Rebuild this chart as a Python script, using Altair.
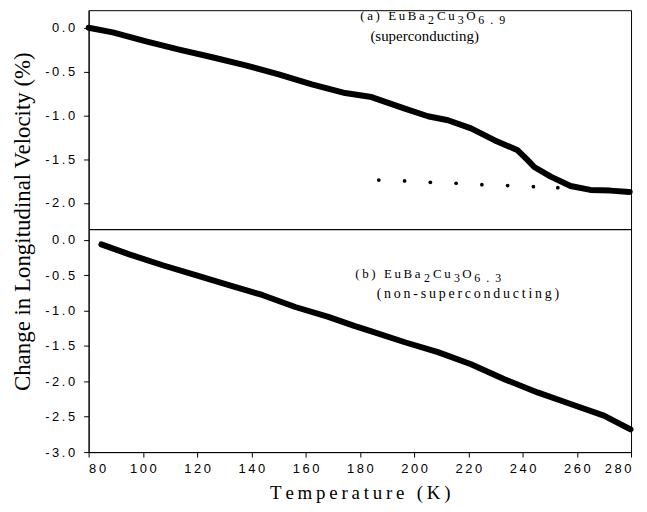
import altair as alt
import pandas as pd

# (a) EuBa2Cu3O6.9 superconducting
temp_a = [80, 88.9, 101.2, 113.4, 125.6, 137.9, 150.1, 162.3, 174.6, 184.3, 196.6,
          205.1, 212.5, 221, 229.6, 238.2, 241.8, 244.3, 250.4, 257.7, 265, 272.4, 279.5]
vel_a = [0.0, -0.053, -0.156, -0.25, -0.337, -0.43, -0.534, -0.648, -0.746, -0.792, -0.924,
         -1.011, -1.057, -1.15, -1.284, -1.40, -1.51, -1.59, -1.70, -1.807, -1.852, -1.86, -1.875]

# dotted background line
temp_dots = [187, 196.5, 206, 215.5, 225, 234.5, 244, 253]
vel_dots = [-1.74, -1.75, -1.765, -1.776, -1.792, -1.803, -1.815, -1.826]

# (b) EuBa2Cu3O6.3 non-superconducting
temp_b = [84.7, 95, 107.3, 119.5, 131.7, 144, 156.2, 168.4, 178.2, 184.3, 196.6, 208.8,
          221, 233.3, 245.5, 257.7, 270, 279.8]
vel_b = [-0.066, -0.206, -0.36, -0.5, -0.64, -0.78, -0.95, -1.09, -1.22, -1.294, -1.448,
         -1.588, -1.76, -1.97, -2.157, -2.32, -2.485, -2.68]

x_ticks = [80, 100, 120, 140, 160, 180, 200, 220, 240, 260, 280]
y_ticks_a = [0.0, -0.5, -1.0, -1.5, -2.0]
y_ticks_b = [0.0, -0.5, -1.0, -1.5, -2.0, -2.5, -3.0]

TS = "\u2009"
ES = "\u2002"


def sp(s, sep=TS):
    return sep.join(s)


# annotation pieces: formula pieces (normal / subscript) and the second lines
norm_a = pd.DataFrame({"T": [180.18, 208.44, 219.27], "V": [0.13] * 3,
                       "text": [sp("(a) EuBa"), sp("Cu"), "O"]})
sub_a = pd.DataFrame({"T": [205.14, 216.15, 223.67], "V": [0.13] * 3,
                      "text": ["2", "3", sp("6.9", ES)]})
line2_a = pd.DataFrame({"T": [183.9], "V": [-0.09], "text": ["(superconducting)"]})

norm_b = pd.DataFrame({"T": [178.35, 206.97, 217.8], "V": [-0.486] * 3,
                       "text": [sp("(b) EuBa"), sp("Cu"), "O"]})
sub_b = pd.DataFrame({"T": [203.67, 214.68, 222.2], "V": [-0.486] * 3,
                      "text": ["2", "3", sp("6.3", ES)]})
line2_b = pd.DataFrame({"T": [186.2], "V": [-0.766], "text": [sp("(non-superconducting)")]})

df_a = pd.DataFrame({"T": temp_a, "V": vel_a})
df_dots = pd.DataFrame({"T": temp_dots, "V": vel_dots})
df_b = pd.DataFrame({"T": temp_b, "V": vel_b})

y_label_expr = "join(split(replace(format(datum.value, '.1f'), '\u2212', '-'), ''), '\u2009')"
x_label_expr = "join(split(datum.label, ''), '\u2009')"

W = 545
xscale = alt.Scale(domain=[80, 280], nice=False, zero=False)
yscale_a = alt.Scale(domain=[-2.3, 0.2], nice=False, zero=False)
yscale_b = alt.Scale(domain=[-3.0, 0.15], nice=False, zero=False)

common = dict(grid=False, domainColor="black", tickColor="black", tickSize=5,
              labelFont="Liberation Sans", labelFontSize=13, labelColor="black",
              titleFont="Liberation Serif", titleFontSize=19, titleFontWeight="normal",
              titleColor="black")

yaxis_a = alt.Axis(values=y_ticks_a, labelExpr=y_label_expr, title=None, labelPadding=9,
                   **common)
yaxis_b = alt.Axis(values=y_ticks_b, labelExpr=y_label_expr, labelPadding=9,
                   title="Change in Longitudinal Velocity (%)", titleY=-8, titlePadding=10,
                   **{**common, "titleFontSize": 23})
xaxis_b = alt.Axis(values=x_ticks, labelExpr=x_label_expr, labelPadding=6,
                   title=sp("Temperature (K)"), titlePadding=8, **common)


def texts(df, xax, yax, ysc, size, dy=0):
    return alt.Chart(df).mark_text(align="left", baseline="middle", font="Liberation Serif",
                                   fontSize=size, color="black", dy=dy).encode(
        x=alt.X("T:Q", scale=xscale, axis=xax),
        y=alt.Y("V:Q", scale=ysc, axis=yax),
        text="text:N")


line_a = alt.Chart(df_a).mark_line(color="black", strokeWidth=6, strokeCap="round",
                                   strokeJoin="round").encode(
    x=alt.X("T:Q", scale=xscale, axis=None),
    y=alt.Y("V:Q", scale=yscale_a, axis=yaxis_a))
dots = alt.Chart(df_dots).mark_circle(color="black", size=14, opacity=1).encode(
    x=alt.X("T:Q", scale=xscale, axis=None),
    y=alt.Y("V:Q", scale=yscale_a, axis=yaxis_a))
top = alt.layer(
    line_a, dots,
    texts(norm_a, None, yaxis_a, yscale_a, 13),
    texts(sub_a, None, yaxis_a, yscale_a, 12, dy=4),
    texts(line2_a, None, yaxis_a, yscale_a, 15),
).properties(width=W, height=220)

line_b = alt.Chart(df_b).mark_line(color="black", strokeWidth=6, strokeCap="round",
                                   strokeJoin="round").encode(
    x=alt.X("T:Q", scale=xscale, axis=xaxis_b),
    y=alt.Y("V:Q", scale=yscale_b, axis=yaxis_b))
bottom = alt.layer(
    line_b,
    texts(norm_b, xaxis_b, yaxis_b, yscale_b, 13),
    texts(sub_b, xaxis_b, yaxis_b, yscale_b, 12, dy=4),
    texts(line2_b, xaxis_b, yaxis_b, yscale_b, 14),
).properties(width=W, height=224)

chart = alt.vconcat(top, bottom, spacing=0, bounds="flush").resolve_scale(
    y="independent").properties(
    padding={"top": 0, "left": 3, "right": 5, "bottom": 5}).configure_view(
    stroke="black", strokeWidth=1).configure_axis(**common)

chart.save("out.html", embed_options={"renderer": "svg", "actions": False})
